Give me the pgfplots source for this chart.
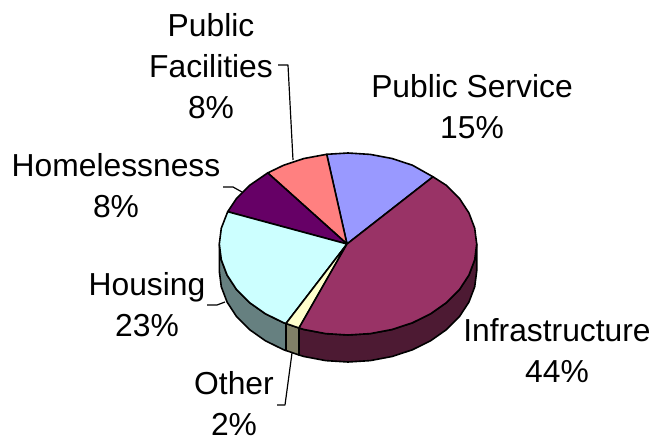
\documentclass[border=0pt]{standalone}
\usepackage{fontspec}
\setmainfont{Liberation Sans}
\usepackage{pgfplots}
\pgfplotsset{compat=1.18}
\definecolor{cPS}{HTML}{9999FF}
\definecolor{cIN}{HTML}{993366}
\definecolor{cOT}{HTML}{FFFFCC}
\definecolor{cHO}{HTML}{CCFFFF}
\definecolor{cHL}{HTML}{660066}
\definecolor{cPF}{HTML}{FF8080}
\definecolor{sIN}{HTML}{4D1A33}
\definecolor{sOT}{HTML}{808066}
\definecolor{sHO}{HTML}{668080}
\tikzset{
  lbl/.style={font=\fontsize{31.8}{41}\selectfont, align=center, inner sep=0pt, text=black},
  lead/.style={draw=black, line width=1.2pt, fill=none},
}
\begin{document}
\begin{tikzpicture}
\begin{axis}[
  width=653pt, height=439pt, scale only axis, hide axis,
  xmin=0, xmax=653, ymin=0, ymax=439, y dir=reverse, clip=false,
  every axis plot/.append style={draw=black, line width=1.6pt, line join=round, mark=none},
]
\path (axis cs:0,0) rectangle (axis cs:653,439);
% side faces
\addplot[fill=sHO] coordinates {(219.3,244)(221.3,259.8)(227.1,275.1)(236.5,289.5)(249.4,302.5)(265.3,313.7)(283.7,322.8)(286,323.5)(286,350.5)(283.7,349.8)(265.3,340.7)(249.4,329.5)(236.5,316.5)(227.1,302.1)(221.3,286.8)(219.3,271)} -- cycle;
\addplot[fill=sOT] coordinates {(286,323.5)(299,328)(299,355)(286,350.5)} -- cycle;
\addplot[fill=sIN] coordinates {(299,328)(304,329.5)(325.7,333.6)(348,335)(370.3,333.6)(392,329.5)(412.4,322.8)(430.7,313.7)(446.6,302.5)(459.5,289.5)(468.9,275.1)(474.7,259.8)(476.7,244)(476.7,271)(474.7,286.8)(468.9,302.1)(459.5,316.5)(446.6,329.5)(430.7,340.7)(412.4,349.8)(392,356.5)(370.3,360.6)(348,362)(325.7,360.6)(304,356.5)(299,355)} -- cycle;
% top faces
\addplot[fill=cPS] coordinates {(347,244)(433,176.8)(412.4,165.2)(392,158.5)(370.3,154.4)(348,153)(326.7,154.3)} -- cycle;
\addplot[fill=cPF] coordinates {(347,244)(326.7,154.3)(304,158.5)(283.7,165.2)(267.7,172.9)} -- cycle;
\addplot[fill=cHL] coordinates {(347,244)(267.7,172.9)(249.4,185.5)(236.5,198.5)(227.7,211.7)} -- cycle;
\addplot[fill=cHO] coordinates {(347,244)(227.7,211.7)(221.3,228.2)(219.3,244)(221.3,259.8)(227.1,275.1)(236.5,289.5)(249.4,302.5)(265.3,313.7)(283.7,322.8)(286,323.5)} -- cycle;
\addplot[fill=cOT] coordinates {(347,244)(286,323.5)(299,328)} -- cycle;
\addplot[fill=cIN] coordinates {(347,244)(299,328)(304,329.5)(325.7,333.6)(348,335)(370.3,333.6)(392,329.5)(412.4,322.8)(430.7,313.7)(446.6,302.5)(459.5,289.5)(468.9,275.1)(474.7,259.8)(476.7,244)(474.7,228.2)(468.9,212.9)(459.5,198.5)(446.6,185.5)(433,176.8)} -- cycle;
% leader lines
\addplot[lead] coordinates {(278,65)(288,65)(293,160)};
\addplot[lead] coordinates {(223,187)(233,187)(242,192)};
\addplot[lead] coordinates {(207,305)(217,305)(225,302)};
\addplot[lead] coordinates {(277,405)(285,405)(292,353)};
% labels
\node[lbl] at (axis cs:211,66.5) {Public\\Facilities\\8\%};
\node[lbl] at (axis cs:472,107) {Public Service\\15\%};
\node[lbl] at (axis cs:116,186) {Homelessness\\8\%};
\node[lbl] at (axis cs:147,304.5) {Housing\\23\%};
\node[lbl] at (axis cs:234,403.5) {Other\\2\%};
\node[lbl] at (axis cs:557,351) {Infrastructure\\44\%};
\end{axis}
\end{tikzpicture}
\end{document}
